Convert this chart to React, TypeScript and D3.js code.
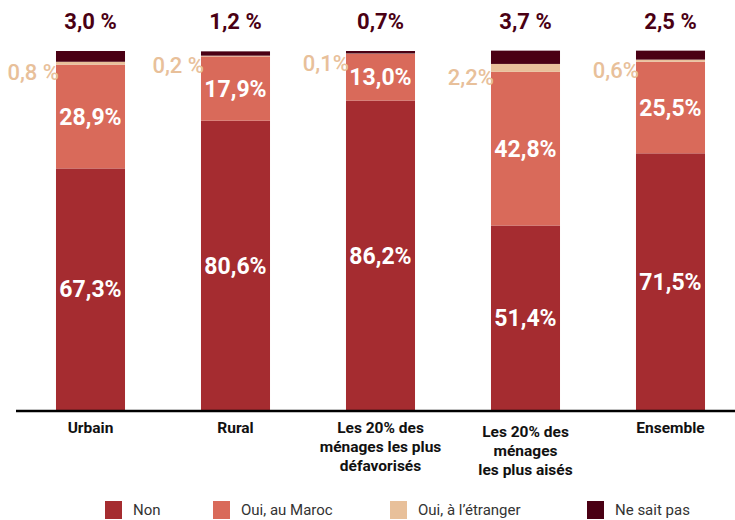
import React, { useEffect, useRef } from 'react';
import { select, scaleBand, scaleLinear, stack } from 'd3';

const categories = ['Urbain', 'Rural', 'Les 20% des ménages les plus défavorisés', 'Les 20% des ménages les plus aisés', 'Ensemble'];
const categoryLines = [
  ['Urbain'],
  ['Rural'],
  ['Les 20% des', 'ménages les plus', 'défavorisés'],
  ['Les 20% des', 'ménages', 'les plus aisés'],
  ['Ensemble'],
];
const non = [67.3, 80.6, 86.2, 51.4, 71.5];
const ouiMaroc = [28.9, 17.9, 13.0, 42.8, 25.5];
const ouiEtranger = [0.8, 0.2, 0.1, 2.2, 0.6];
const neSaitPas = [3.0, 1.2, 0.7, 3.7, 2.5];
const etrangerLabels = ['0,8 %', '0,2 %', '0,1%', '2,2%', '0,6%'];
const topLabels = ['3,0 %', '1,2 %', '0,7%', '3,7 %', '2,5 %'];

const keys = ['non', 'maroc', 'etranger', 'nsp'];
const legendNames = ['Non', 'Oui, au Maroc', 'Oui, à l\u2019étranger', 'Ne sait pas'];
const colors = ['#a52c30', '#d96a5a', '#e8c09a', '#4a0014'];

const fmt = (v: number) => v.toFixed(1).replace('.', ',') + '%';

export default function App() {
  const svgRef = useRef<SVGSVGElement>(null);

  useEffect(() => {
    const width = 735;
    const height = 520;
    const svg = select(svgRef.current);
    svg.selectAll('*').remove();

    const data = categories.map((c, i) => ({
      cat: c,
      non: non[i],
      maroc: ouiMaroc[i],
      etranger: ouiEtranger[i],
      nsp: neSaitPas[i],
    }));
    const layers = stack<any>().keys(keys)(data);

    const x = scaleBand()
      .domain(categories)
      .range([18, 743])
      .paddingInner(0.524)
      .paddingOuter(0.262);
    const y = scaleLinear().domain([0, 100]).range([410, 51]);
    const font = 'Roboto, sans-serif';

    svg
      .selectAll('.layer')
      .data(layers)
      .join('g')
      .attr('class', 'layer')
      .attr('fill', (_, i) => colors[i])
      .selectAll('rect')
      .data((l: any) => l)
      .join('rect')
      .attr('x', (d: any) => x(d.data.cat)!)
      .attr('width', x.bandwidth())
      .attr('y', (d: any) => y(d[1]))
      .attr('height', (d: any) => y(d[0]) - y(d[1]));

    // white labels inside bars
    [0, 1].forEach(li => {
      svg
        .append('g')
        .selectAll('text')
        .data(layers[li])
        .join('text')
        .attr('x', (d: any) => x(d.data.cat)! + x.bandwidth() / 2)
        .attr('y', (d: any) => (y(d[0]) + y(d[1])) / 2)
        .attr('dy', '0.36em')
        .attr('text-anchor', 'middle')
        .attr('fill', '#fff')
        .attr('font-family', font)
        .attr('font-weight', 700)
        .attr('font-size', 23)
        .text((d: any) => fmt(d[1] - d[0]));
    });

    // étranger labels left of bars
    svg
      .append('g')
      .selectAll('text')
      .data(layers[2])
      .join('text')
      .attr('x', (d: any) => x(d.data.cat)! + 3)
      .attr('y', (d: any) => (y(d[0]) + y(d[1])) / 2 + 9)
      .attr('dy', '0.36em')
      .attr('text-anchor', 'end')
      .attr('fill', '#e8c09a')
      .attr('font-family', font)
      .attr('font-weight', 500)
      .attr('font-size', 22)
      .text((_: any, i: number) => etrangerLabels[i]);

    // top labels (ne sait pas)
    svg
      .append('g')
      .selectAll('text')
      .data(categories)
      .join('text')
      .attr('x', d => x(d)! + x.bandwidth() / 2)
      .attr('y', 21)
      .attr('dy', '0.36em')
      .attr('text-anchor', 'middle')
      .attr('fill', '#4a0014')
      .attr('font-family', font)
      .attr('font-weight', 700)
      .attr('font-size', 22)
      .text((_, i) => topLabels[i]);

    // axis line
    svg
      .append('line')
      .attr('x1', 16)
      .attr('x2', width)
      .attr('y1', 411)
      .attr('y2', 411)
      .attr('stroke', '#000')
      .attr('stroke-width', 2.5);

    // category labels
    const cg = svg
      .append('g')
      .selectAll('text')
      .data(categories)
      .join('text')
      .attr('x', d => x(d)! + x.bandwidth() / 2)
      .attr('y', (_, i) => (i === 3 ? 437 : 433))
      .attr('text-anchor', 'middle')
      .attr('fill', '#111')
      .attr('font-family', font)
      .attr('font-weight', 700)
      .attr('font-size', 15.5);
    cg.selectAll('tspan')
      .data((_, i) => categoryLines[i])
      .join('tspan')
      .attr('x', function () {
        return (this as any).parentNode.getAttribute('x');
      })
      .attr('dy', (_, j) => (j === 0 ? 0 : 19))
      .text(d => d);

    // legend
    const legendX = [105, 213, 390, 587];
    const lg = svg
      .append('g')
      .selectAll('g')
      .data(legendNames)
      .join('g')
      .attr('transform', (_, i) => `translate(${legendX[i]},501)`);
    lg.append('rect')
      .attr('width', 17)
      .attr('height', 18)
      .attr('fill', (_, i) => colors[i]);
    lg.append('text')
      .attr('x', 28)
      .attr('y', 9)
      .attr('dy', '0.36em')
      .attr('fill', '#333')
      .attr('font-family', font)
      .attr('font-size', 15)
      .text(d => d);

    svg.attr('width', width).attr('height', height);
  }, []);

  return (
    <div>
      <svg ref={svgRef} style={{ position: 'absolute', left: 0, top: 0 }} />
    </div>
  );
}
